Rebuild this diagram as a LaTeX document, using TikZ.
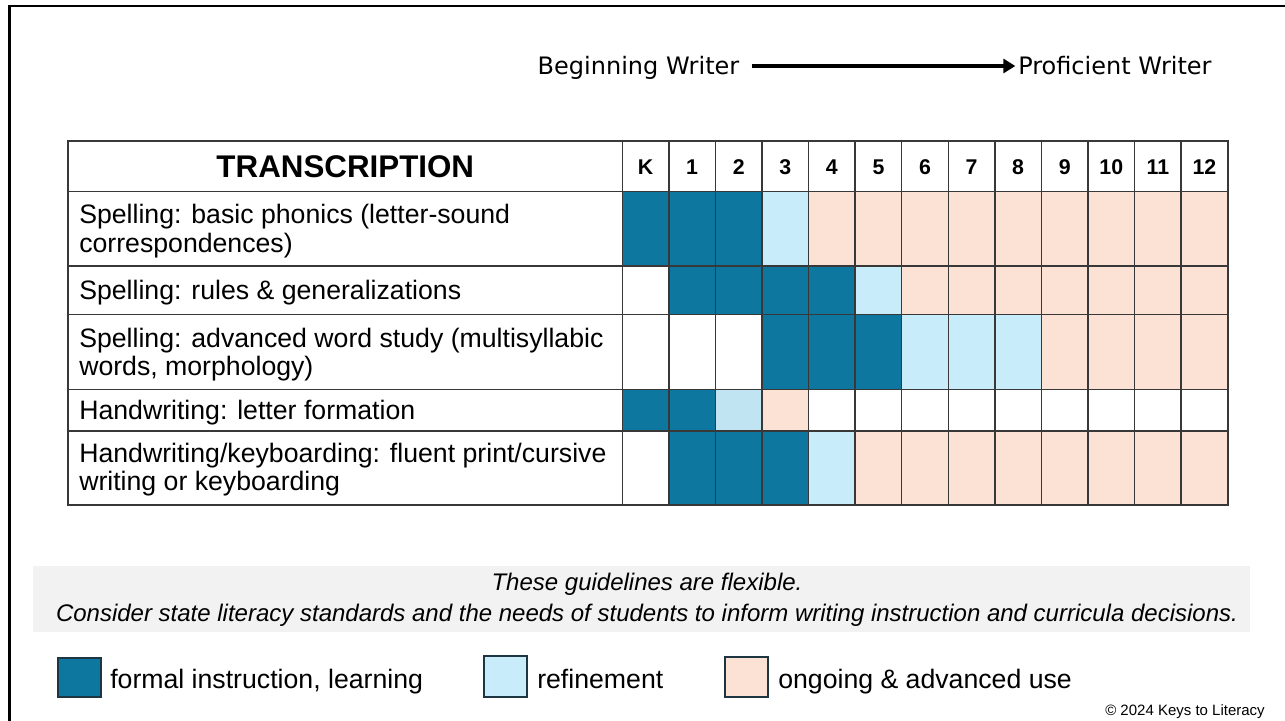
\documentclass[tikz,border=0pt]{standalone}
\usepackage{fontspec}
\setmainfont{Liberation Sans}
\newfontfamily\dvs{DejaVu Sans}
\usetikzlibrary{arrows.meta}
\definecolor{cD}{HTML}{0E77A0}
\definecolor{cL}{HTML}{C8ECFA}
\definecolor{cM}{HTML}{C0E4F2}
\definecolor{cP}{HTML}{FCE1D5}
\definecolor{cW}{HTML}{FFFFFF}
\definecolor{bandgray}{HTML}{F2F2F2}
\definecolor{gridc}{HTML}{383838}
\definecolor{legbd}{HTML}{1E3542}
\begin{document}
\begin{tikzpicture}[x=0.75pt,y=-0.75pt,
  gridline/.style={draw=gridc,line width=1.1pt},
  rowlabel/.style={anchor=west,inner sep=0pt,align=left,font=\fontsize{20pt}{21.5pt}\selectfont},
  grade/.style={inner sep=0pt,font=\fontsize{16pt}{18pt}\selectfont\bfseries},
  legsq/.style={draw=legbd,line width=1.5pt},
  legtext/.style={anchor=base west,inner sep=0pt,font=\fontsize{20pt}{22pt}\selectfont},
  note/.style={anchor=base,inner sep=0pt,font=\fontsize{18pt}{20pt}\selectfont\itshape},
  top/.style={inner sep=0pt,font=\dvs\fontsize{18pt}{20pt}\selectfont}]
\useasboundingbox (0,0) rectangle (1285,721);
\fill[white] (0,0) rectangle (1285,721);
% frame
\draw[line width=2pt,black] (1300,6) -- (9.5,6) -- (9.5,740);
% top arrow
\node[top,anchor=base] (bw) at (638.5,74.5) {Beginning Writer};
\node[top,anchor=base west] (pw) at (1018,74.5) {Proficient Writer};
\coordinate (as) at (bw.east |- 0,66);
\coordinate (ae) at (pw.west |- 0,66);
\draw[line width=2.8pt,-{Triangle[length=9pt,width=10.5pt]},shorten <=9pt,shorten >=2pt] (as) -- (ae);
% cells
\def\xo{622.3}
\def\cw{46.57}
\foreach \ya/\yb/\codes in {191.5/266/{D,D,D,L,P,P,P,P,P,P,P,P,P},
                            266/314.5/{W,D,D,D,D,L,P,P,P,P,P,P,P},
                            314.5/389.6/{W,W,W,D,D,D,L,L,L,P,P,P,P},
                            389.6/431/{D,D,M,P,W,W,W,W,W,W,W,W,W},
                            431/504.7/{W,D,D,D,L,P,P,P,P,P,P,P,P}}{
  \foreach \c [count=\i from 0] in \codes {
    \fill[c\c] ({\xo+\i*\cw},\ya) rectangle ({\xo+(\i+1)*\cw},\yb);
  }
}
% grid
\foreach \yy in {191.5,266,314.5,389.6,431}{
  \draw[gridline] (68.3,\yy) -- (1227.7,\yy);
}
\foreach \i in {0,...,12}{
  \draw[gridline] ({\xo+\i*\cw},140.7) -- ({\xo+\i*\cw},504.7);
}
\draw[gridline,line width=1.4pt] (68.3,140.7) rectangle (1227.7,504.7);
% header
\node[inner sep=0pt,font=\fontsize{23.5pt}{25pt}\selectfont\bfseries] (title) at (345.3,166.5) {TRANSCRIPTION};
\foreach \g [count=\i from 0] in {K,1,2,3,4,5,6,7,8,9,10,11,12}{
  \node[grade] (g\i) at ({\xo+(\i+0.5)*\cw},167) {\g};
}
% row labels
\node[rowlabel] (r1) at (79,231.3) {Spelling: basic phonics (letter-sound\\correspondences)};
\node[rowlabel] (r2) at (79,292.5) {Spelling: rules \& generalizations};
\node[rowlabel] (r3) at (79,354.5) {Spelling: advanced word study (multisyllabic\\words, morphology)};
\node[rowlabel] (r4) at (79,412.5) {Handwriting: letter formation};
\node[rowlabel] (r5) at (79,469.5) {Handwriting/keyboarding: fluent print/cursive\\writing or keyboarding};
% note band
\fill[bandgray] (33,566) rectangle (1250,632);
\node[note] (n1) at (647,590.5) {These guidelines are flexible.};
\node[note] (n2) at (647,621.5) {Consider state literacy standards and the needs of students to inform writing instruction and curricula decisions.};
% legend
\filldraw[legsq,fill=cD] (58,658) rectangle (101,697);
\node[legtext] (l1) at (110,688) {formal instruction, learning};
\filldraw[legsq,fill=cL] (484,656) rectangle (527,697);
\node[legtext] (l2) at (537,688) {refinement};
\filldraw[legsq,fill=cP] (725,657) rectangle (768,697);
\node[legtext] (l3) at (778,688) {ongoing \& advanced use};
\node[inner sep=0pt,anchor=base east,font=\fontsize{11.25pt}{13pt}\selectfont] (copy) at (1265,715) {© 2024 Keys to Literacy};
\end{tikzpicture}
\end{document}
